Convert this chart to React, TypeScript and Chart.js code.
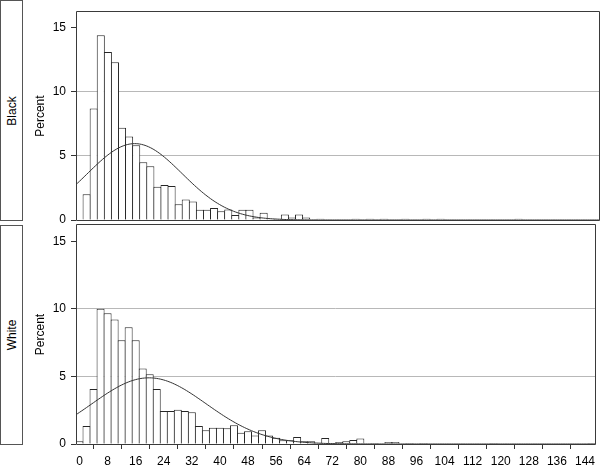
import React, { useEffect, useRef } from "react";
import { Chart, registerables } from "chart.js";

Chart.register(...registerables);

// ---- data ----
const binCenters: number[] = [
  0, 2, 4, 6, 8, 10, 12, 14, 16, 18, 20, 22, 24, 26, 28, 30, 32, 34, 36, 38,
  40, 42, 44, 46, 48, 50, 52, 54, 56, 58, 60, 62, 64, 66, 68, 70, 72, 74, 76, 78,
  80, 82, 84, 86, 88, 90, 92, 94, 96, 98, 100, 102, 104, 106, 108, 110, 112, 114, 116, 118,
  120, 122, 124, 126, 128, 130, 132, 134, 136, 138, 140, 142, 144, 146,
];

const blackPercent: number[] = [
  0, 2.0, 8.7, 14.4, 13.1, 12.3, 7.2, 6.5, 5.83, 4.5, 4.2, 2.6, 2.73, 2.65, 1.23, 1.6, 1.45, 0.8, 0.79, 0.93,
  0.69, 0.81, 0.39, 0.79, 0.79, 0.2, 0.57, 0.1, 0.1, 0.42, 0.2, 0.42, 0.2, 0, 0.1, 0, 0, 0, 0, 0.1,
  0, 0.1, 0, 0.1, 0, 0, 0.1, 0, 0, 0.1, 0, 0.1, 0, 0, 0, 0, 0, 0, 0, 0,
  0, 0, 0.1, 0, 0, 0, 0, 0, 0, 0, 0, 0, 0, 0,
];

const whitePercent: number[] = [
  0.2, 1.33, 4.07, 10.0, 9.68, 9.21, 7.68, 8.64, 7.68, 5.58, 5.16, 4.07, 2.44, 2.44, 2.54, 2.44, 2.35, 1.33, 1.01, 1.21,
  1.21, 1.16, 1.38, 0.84, 0.94, 0.62, 1.01, 0.62, 0.47, 0.27, 0.27, 0.52, 0.2, 0.2, 0.1, 0.44, 0.07, 0.15, 0.2, 0.3,
  0.4, 0, 0.07, 0, 0.15, 0.15, 0, 0.07, 0, 0.07, 0, 0, 0, 0, 0, 0, 0, 0, 0, 0.07,
  0, 0, 0, 0, 0, 0, 0, 0, 0, 0, 0, 0, 0, 0.07,
];

// fitted normal curve parameters
const blackMean = 15.6;
const blackStd = 13.4;
const whiteMean = 19.8;
const whiteStd = 16.3;
const binWidth = 2;

const xTicks: number[] = [0, 8, 16, 24, 32, 40, 48, 56, 64, 72, 80, 88, 96, 104, 112, 120, 128, 136, 144];
const yTicks: number[] = [0, 5, 10, 15];
const gridValues: number[] = [5, 10];

const FONT_FAMILY = "'Liberation Sans', Arial, Helvetica, sans-serif";
const FONT_SIZE = 12;

function normalCurve(mean: number, sd: number) {
  const pts: { x: number; y: number }[] = [];
  const peak = (binWidth * 100) / (sd * Math.sqrt(2 * Math.PI));
  for (let x = -1; x <= 147.001; x += 0.5) {
    pts.push({ x, y: peak * Math.exp(-((x - mean) ** 2) / (2 * sd * sd)) });
  }
  return pts;
}

const framePlugin = {
  id: "panelFrame",
  afterDraw(chart: any) {
    const { ctx, chartArea } = chart;
    const l = Math.round(chartArea.left) + 0.5;
    const r = Math.round(chartArea.right) - 0.5;
    const t = Math.round(chartArea.top) - 0.5;
    const b = Math.round(chartArea.bottom) + 0.5;
    ctx.save();
    ctx.strokeStyle = "#3a3a3a";
    ctx.lineWidth = 1;
    ctx.beginPath();
    ctx.rect(l, t, r - l, b - t);
    ctx.stroke();
    ctx.restore();
  },
};

function makePanel(
  canvas: HTMLCanvasElement,
  values: number[],
  mean: number,
  sd: number,
  showX: boolean
) {
  const font = { family: FONT_FAMILY, size: FONT_SIZE };
  return new Chart(canvas, {
    type: "bar",
    data: {
      datasets: [
        {
          type: "line",
          data: normalCurve(mean, sd),
          borderColor: "#333333",
          borderWidth: 1,
          pointRadius: 0,
          fill: false,
          tension: 0,
          order: 1,
        } as any,
        {
          type: "bar",
          data: binCenters.map((x, i) => ({ x, y: values[i] })),
          backgroundColor: "#ffffff",
          borderColor: "#262626",
          borderWidth: { top: 1, left: 1, right: 1, bottom: 0 },
          borderSkipped: "start",
          barPercentage: 1.14,
          categoryPercentage: 1,
          inflateAmount: 0,
          order: 2,
        } as any,
      ],
    },
    options: {
      responsive: false,
      animation: false,
      devicePixelRatio: 1,
      events: [],
      layout: {
        padding: showX
          ? { top: 225, left: 0, right: 0, bottom: 0 }
          : { top: 1, left: 0, right: 0, bottom: 248 },
      },
      plugins: {
        legend: { display: false },
        tooltip: { enabled: false },
      },
      scales: {
        x: {
          type: "linear",
          display: showX,
          min: -1,
          max: 147,
          offset: false,
          afterBuildTicks: (s: any) => {
            s.ticks = xTicks.map((v) => ({ value: v }));
          },
          afterFit: (s: any) => {
            s.height = showX ? 24 : 0;
          },
          grid: {
            drawOnChartArea: false,
            drawTicks: true,
            tickLength: 5,
            color: "#333333",
            tickColor: "#333333",
          },
          border: { display: false },
          ticks: {
            color: "#000000",
            font,
            padding: 5,
            maxRotation: 0,
            autoSkip: false,
          },
        },
        y: {
          type: "linear",
          min: 0,
          max: 16.2,
          afterBuildTicks: (s: any) => {
            s.ticks = yTicks.map((v) => ({ value: v }));
          },
          afterFit: (s: any) => {
            s.width = 76;
          },
          grid: {
            color: (c: any) =>
              c.tick && gridValues.includes(c.tick.value) ? "#b8b8b8" : "rgba(0,0,0,0)",
            tickColor: "#333333",
            tickLength: 5,
            drawTicks: true,
            lineWidth: 1,
          },
          border: { display: false },
          ticks: { color: "#000000", font, padding: 5 },
          title: {
            display: true,
            text: "Percent",
            color: "#000000",
            font,
            padding: { top: 33.3, bottom: 0 },
          },
        },
      },
    } as any,
    plugins: [framePlugin],
  });
}

function StripLabel({ text, top, height }: { text: string; top: number; height: number }) {
  return (
    <div
      style={{
        position: "absolute",
        left: 0,
        top,
        width: 23,
        height,
        boxSizing: "border-box",
        border: "1px solid #555555",
        background: "#ffffff",
      }}
    >
      <span
        style={{
          position: "absolute",
          left: "50%",
          top: "50%",
          transform: "translate(-50%, -50%) rotate(-90deg)",
          fontFamily: FONT_FAMILY,
          fontSize: FONT_SIZE,
          color: "#000000",
          whiteSpace: "nowrap",
          lineHeight: 1,
        }}
      >
        {text}
      </span>
    </div>
  );
}

export default function App() {
  const topRef = useRef<HTMLCanvasElement>(null);
  const botRef = useRef<HTMLCanvasElement>(null);

  useEffect(() => {
    const c1 = makePanel(topRef.current!, blackPercent, blackMean, blackStd, false);
    const c2 = makePanel(botRef.current!, whitePercent, whiteMean, whiteStd, true);
    return () => {
      c1.destroy();
      c2.destroy();
    };
  }, []);

  const canvasStyle: React.CSSProperties = {
    position: "absolute",
    left: 0,
    top: 0,
    width: 600,
    height: 468,
  };

  return (
    <div
      style={{
        position: "fixed",
        left: 0,
        top: 0,
        width: 600,
        height: 468,
        background: "#ffffff",
        overflow: "hidden",
      }}
    >
      <StripLabel text="Black" top={0} height={221} />
      <StripLabel text="White" top={225} height={220} />
      <canvas ref={topRef} width={600} height={468} style={canvasStyle} />
      <canvas ref={botRef} width={600} height={468} style={canvasStyle} />
    </div>
  );
}
